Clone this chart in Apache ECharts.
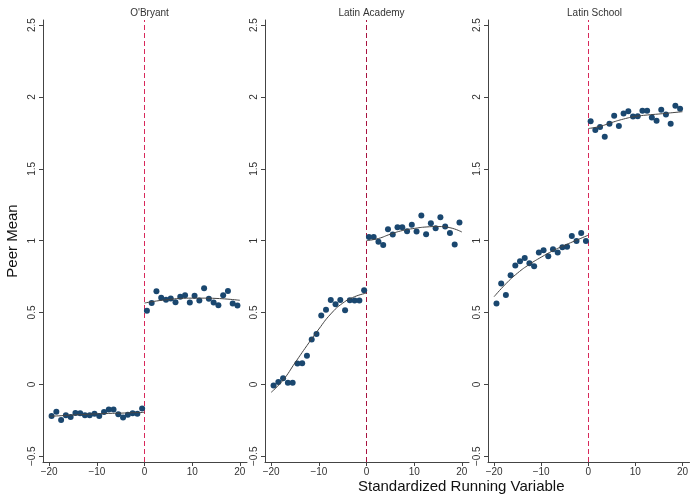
<!DOCTYPE html>
<html>
<head>
<meta charset="utf-8">
<script src="https://cdn.jsdelivr.net/npm/echarts@6/dist/echarts.min.js"></script>
<style>html,body{margin:0;padding:0;background:#fff;}#c{width:691px;height:495px;}</style>
</head>
<body>
<div id="c"></div>
<script>
// ---------- data ----------
const panelTitles = ["O'Bryant", "Latin Academy", "Latin School"];
const binsLeft = [-19.5,-18.5,-17.5,-16.5,-15.5,-14.5,-13.5,-12.5,-11.5,-10.5,-9.5,-8.5,-7.5,-6.5,-5.5,-4.5,-3.5,-2.5,-1.5,-0.5];
const binsRight = [0.5,1.5,2.5,3.5,4.5,5.5,6.5,7.5,8.5,9.5,10.5,11.5,12.5,13.5,14.5,15.5,16.5,17.5,18.5,19.5];
const cutoff = 0;

const obLeft  = [-0.22,-0.19,-0.248,-0.215,-0.227,-0.199,-0.201,-0.215,-0.215,-0.204,-0.22,-0.192,-0.174,-0.174,-0.208,-0.231,-0.211,-0.201,-0.204,-0.167];
const obRight = [0.512,0.567,0.648,0.602,0.588,0.597,0.572,0.609,0.620,0.569,0.616,0.583,0.669,0.595,0.569,0.551,0.620,0.650,0.562,0.549];
const laLeft  = [-0.007,0.016,0.042,0.012,0.012,0.145,0.147,0.200,0.312,0.350,0.480,0.520,0.587,0.557,0.587,0.515,0.585,0.583,0.583,0.655];
const laRight = [1.026,1.026,0.993,0.970,1.079,1.042,1.093,1.093,1.065,1.110,1.063,1.175,1.044,1.121,1.086,1.163,1.098,1.054,0.974,1.126];
const lsLeft  = [0.563,0.702,0.621,0.760,0.827,0.857,0.880,0.843,0.822,0.917,0.933,0.891,0.940,0.917,0.954,0.958,1.032,0.998,1.053,0.998];
const lsRight = [1.831,1.769,1.790,1.723,1.813,1.868,1.797,1.885,1.901,1.864,1.866,1.903,1.903,1.857,1.834,1.910,1.878,1.813,1.938,1.917];

// fitted curves (read at these x positions)
const fitXLeft  = [-20,-17.5,-15,-12.5,-10,-7.5,-5,-2.5,0];
const fitXRight = [0,2.5,5,7.5,10,12.5,15,17.5,20];
const obFitLeft  = [-0.222,-0.218,-0.213,-0.209,-0.205,-0.202,-0.2,-0.197,-0.195];
const obFitRight = [0.566,0.58,0.59,0.598,0.6,0.6,0.598,0.593,0.585];
const laFitLeft  = [-0.055,0.03,0.15,0.27,0.385,0.49,0.565,0.61,0.635];
const laFitRight = [1.0,1.015,1.045,1.07,1.085,1.095,1.098,1.09,1.06];
const lsFitLeft  = [0.61,0.70,0.775,0.835,0.885,0.93,0.968,1.003,1.038];
const lsFitRight = [1.78,1.795,1.822,1.846,1.864,1.874,1.881,1.889,1.897];

const yTicks = [-0.5,0,0.5,1,1.5,2,2.5];
const xTicks = [-20,-10,0,10,20];

// ---------- build ----------
const zip = (xs, ys) => xs.map((x, i) => [x, ys[i]]);
const panels = [
  {l: obLeft, r: obRight, fl: obFitLeft, fr: obFitRight, cut: '#d8285a'},
  {l: laLeft, r: laRight, fl: laFitLeft, fr: laFitRight, cut: '#a8123f'},
  {l: lsLeft, r: lsRight, fl: lsFitLeft, fr: lsFitRight, cut: '#d8285a'}
];
const lefts = [43, 265, 488];
const font = 'Liberation Sans, Arial, sans-serif';
const minus = v => String(v).replace('-', '\u2212');
const axisCol = '#444';

const grids = [], xAxes = [], yAxes = [], series = [], titles = [];
lefts.forEach((L, i) => {
  grids.push({left: L, width: 204, top: 20, bottom: 33});
  xAxes.push({
    type: 'value', gridIndex: i, min: -21.3, max: 21.5,
    splitLine: {show: false},
    axisLine: {show: true, onZero: false, lineStyle: {color: axisCol, width: 1}},
    axisTick: {show: true, length: 4, lineStyle: {color: axisCol}, customValues: xTicks},
    axisLabel: {fontFamily: font, fontSize: 10, color: '#333', margin: 5, customValues: xTicks, formatter: minus}
  });
  yAxes.push({
    type: 'value', gridIndex: i, min: -0.54, max: 2.535,
    splitLine: {show: false},
    axisLine: {show: true, onZero: false, lineStyle: {color: axisCol, width: 1}},
    axisTick: {show: true, length: 4, lineStyle: {color: axisCol}, customValues: yTicks},
    axisLabel: {fontFamily: font, fontSize: 10, color: '#333', margin: 6, rotate: 90, customValues: yTicks, formatter: minus},
    name: i === 0 ? 'Peer Mean' : '',
    nameLocation: 'middle', nameGap: 23, nameRotate: 90,
    nameTextStyle: {fontFamily: font, fontSize: 15, color: '#111'}
  });
  titles.push({
    text: panelTitles[i], left: L + (cutoff + 21.3) * 204 / 42.8, top: 3, textAlign: 'center',
    textStyle: {fontFamily: font, fontSize: 10, fontWeight: 'normal', color: '#333'}
  });
  const p = panels[i];
  series.push({
    type: 'scatter', xAxisIndex: i, yAxisIndex: i, symbolSize: 6,
    itemStyle: {color: '#1a476f', opacity: 1}, data: zip(binsLeft, p.l), z: 3,
    markLine: {
      silent: true, symbol: 'none', label: {show: false}, z: 2,
      lineStyle: {color: p.cut, type: [5, 3], width: 1, opacity: 1},
      data: [{xAxis: cutoff}]
    }
  });
  series.push({type: 'scatter', xAxisIndex: i, yAxisIndex: i, symbolSize: 6,
    itemStyle: {color: '#1a476f', opacity: 1}, data: zip(binsRight, p.r), z: 3});
  [zip(fitXLeft, p.fl), zip(fitXRight, p.fr)].forEach(d => series.push({
    type: 'line', xAxisIndex: i, yAxisIndex: i, data: d, smooth: true,
    showSymbol: false, symbol: 'none', lineStyle: {color: '#444', width: 1}, z: 4
  }));
});

const chart = echarts.init(document.getElementById('c'), null, {renderer: 'canvas'});
chart.setOption({
  animation: false,
  backgroundColor: '#fff',
  title: titles,
  grid: grids, xAxis: xAxes, yAxis: yAxes, series: series,
  graphic: [{
    type: 'text', left: 358, top: 479,
    style: {text: 'Standardized Running Variable', fontFamily: font, fontSize: 15, fill: '#111', textAlign: 'center'}
  }]
});
</script>
</body>
</html>
